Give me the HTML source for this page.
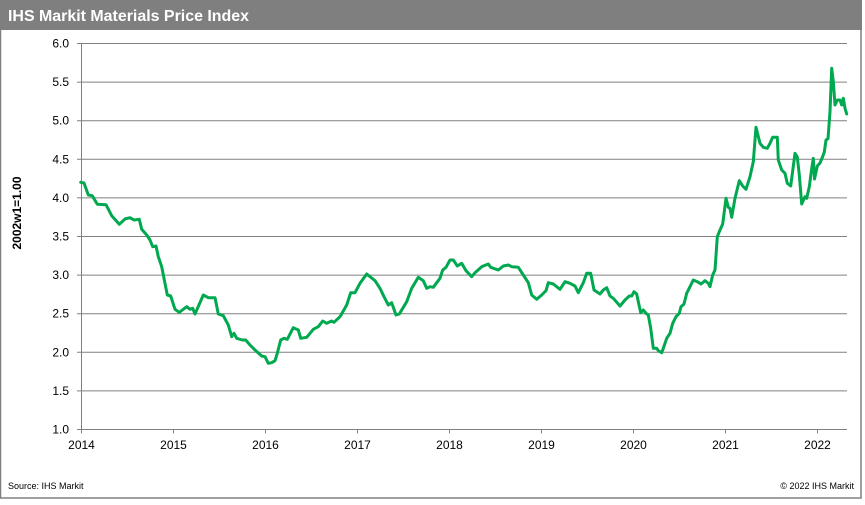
<!DOCTYPE html>
<html>
<head>
<meta charset="utf-8">
<style>
html,body{margin:0;padding:0;background:#fff;}
body{width:865px;height:505px;overflow:hidden;}
svg{display:block;}
text{font-family:"Liberation Sans",Arial,sans-serif;}
</style>
</head>
<body>
<svg width="865" height="505" viewBox="0 0 865 505" xmlns="http://www.w3.org/2000/svg">
  <rect x="0" y="0" width="865" height="505" fill="#ffffff"/>
  <!-- outer border -->
  <rect x="0.5" y="0.5" width="860.5" height="497.5" fill="none" stroke="#808080" stroke-width="1.5"/>
  <!-- header -->
  <rect x="0" y="0" width="862" height="30" fill="#7f7f7f"/>
  <text x="8" y="21" font-size="16" font-weight="bold" fill="#ffffff" textLength="241" lengthAdjust="spacingAndGlyphs">IHS Markit Materials Price Index</text>

  <!-- gridlines -->
  <g stroke="#808080" stroke-width="1">
    <line x1="77" y1="43.5" x2="847" y2="43.5"/>
    <line x1="77" y1="82.1" x2="847" y2="82.1"/>
    <line x1="77" y1="120.7" x2="847" y2="120.7"/>
    <line x1="77" y1="159.3" x2="847" y2="159.3"/>
    <line x1="77" y1="197.9" x2="847" y2="197.9"/>
    <line x1="77" y1="236.5" x2="847" y2="236.5"/>
    <line x1="77" y1="275.1" x2="847" y2="275.1"/>
    <line x1="77" y1="313.7" x2="847" y2="313.7"/>
    <line x1="77" y1="352.3" x2="847" y2="352.3"/>
    <line x1="77" y1="390.9" x2="847" y2="390.9"/>
    <line x1="77" y1="429.5" x2="847" y2="429.5"/>
    <!-- y axis -->
    <line x1="81.5" y1="43.5" x2="81.5" y2="433.5"/>
    <!-- x ticks -->
    <line x1="173.5" y1="429.5" x2="173.5" y2="433.5"/>
    <line x1="265.5" y1="429.5" x2="265.5" y2="433.5"/>
    <line x1="357.5" y1="429.5" x2="357.5" y2="433.5"/>
    <line x1="449.5" y1="429.5" x2="449.5" y2="433.5"/>
    <line x1="541.5" y1="429.5" x2="541.5" y2="433.5"/>
    <line x1="633.5" y1="429.5" x2="633.5" y2="433.5"/>
    <line x1="725.5" y1="429.5" x2="725.5" y2="433.5"/>
    <line x1="817.5" y1="429.5" x2="817.5" y2="433.5"/>
  </g>

  <!-- y labels -->
  <g font-size="12" fill="#000" text-anchor="end">
    <text x="69" y="47.5">6.0</text>
    <text x="69" y="86.1">5.5</text>
    <text x="69" y="124.7">5.0</text>
    <text x="69" y="163.3">4.5</text>
    <text x="69" y="201.9">4.0</text>
    <text x="69" y="240.5">3.5</text>
    <text x="69" y="279.1">3.0</text>
    <text x="69" y="317.7">2.5</text>
    <text x="69" y="356.3">2.0</text>
    <text x="69" y="394.9">1.5</text>
    <text x="69" y="433.5">1.0</text>
  </g>
  <!-- x labels -->
  <g font-size="12" fill="#000" text-anchor="middle">
    <text x="81.5" y="449">2014</text>
    <text x="173.5" y="449">2015</text>
    <text x="265.5" y="449">2016</text>
    <text x="357.5" y="449">2017</text>
    <text x="449.5" y="449">2018</text>
    <text x="541.5" y="449">2019</text>
    <text x="633.5" y="449">2020</text>
    <text x="725.5" y="449">2021</text>
    <text x="817.5" y="449">2022</text>
  </g>

  <!-- y axis title -->
  <text transform="translate(21,213) rotate(-90)" font-size="12" font-weight="bold" fill="#000" text-anchor="middle">2002w1=1.00</text>

  <!-- series -->
  <polyline fill="none" stroke="#00a84f" stroke-width="3" stroke-linejoin="round" stroke-linecap="round" points="
80.7,182.3 84,183 88.3,195 92.3,195.7 97.3,204.3 106,204.7 111.7,215.7 119.3,224.3 125,219 130,217.7 134,220 139.3,219.3 141.7,229.3 146.7,235 150,240 152.7,246.7 156,246 158.3,256.7 161.7,266.7 167.3,295 170.7,296 175,309.3 179.3,312.3 186.7,306.7 190,309.3 192.7,308.3 195,314 203.3,295 208.3,297.7 215,297.7 218.3,314 223.3,315.7 228.3,325 231.7,336.7 234,333.3 236.7,338.3 242.3,340 245.7,340 250,345 255,350 261.7,356 265,356.7 268.3,363.3 271.7,362.7 275,360.7 277.3,353.3 280.7,340 284,338.3 287.3,339.3 293.3,327.7 298.3,330 300.7,338.3 306.7,337.3 313.3,329.3 318.3,326.7 322.7,321 326.7,323.3 331.7,321 334,322.3 340,316.7 346.7,305 350.7,292.7 355,292.7 360,283.3 366.7,274 375,280.7 380,288.3 384,296.7 388.3,305 391.7,302.7 396,315 399.3,314 406.7,301.7 411.7,288.3 418.3,277.3 423.3,280.7 426.7,288.3 430,286.7 433.3,287.3 436.7,282.7 440,278.3 442.7,270 446,267.3 450,260 453.3,260 457.3,266 461.7,263.3 466,270.7 471.7,276.7 475,272.7 481.7,266.7 488.3,264 490.7,267.3 498.3,270 503.3,266 508.3,265 511.7,266.7 518.3,267.3 523.3,275 528.3,282.7 531.7,295 536.7,299.3 541.7,295 546,290.7 548.3,282.7 553.3,284 560,289.3 565,281.7 570,283.3 575,286 578.3,292.7 583.3,282.7 586.7,273.3 590.7,273.3 594,290 600,294 603.3,290 606.7,287.7 610,296 613.3,298.3 620,306 625,300 629.3,296 631.7,296 634,291.7 636.7,294 638.3,301.7 640.7,312.7 643.3,310 646,313.3 648.3,315 650.7,328.3 653.3,348.3 656.7,348.3 658.3,350.7 661.7,352.7 663.3,348.3 666.7,338.3 670,333.3 672.7,323.3 676,316.7 679.3,313.3 681,306.7 684,304 686.7,293.3 690,286.7 693.3,280 697.3,281.7 701,284 705,280.7 708.3,283.3 710,286.7 712.7,275 715,270 717.3,236.7 720,230 722.7,224 726,198.3 728.3,207.3 730,208.3 731.7,217.3 735,198.3 739.3,180.7 742.7,186 746,189.3 750,176.7 753.3,161.7 756,127.3 760,143.3 763.3,147.3 767.3,148.3 770,143.3 772.7,137.3 777.3,137.3 778.3,160 781.7,170 785,173.3 787.3,183.3 790.7,186 795,153.3 797.3,157 799.3,175 801.7,204 805,196.7 806.7,198.3 809.3,186.7 811.5,170 813.3,158.3 814.5,179 817.3,166 820,163 822.7,156.5 824.3,152 826,140 828,138.7 830,111.7 831.7,68.3 833.3,81.7 835,105 837.3,100 840,100 841.7,105 843.3,98.3 845,108.3 846.7,114"/>

  <!-- footer -->
  <text x="8" y="489" font-size="9" fill="#000">Source:  IHS Markit</text>
  <text x="854" y="489" font-size="9" fill="#000" text-anchor="end">© 2022  IHS Markit</text>
</svg>
</body>
</html>
